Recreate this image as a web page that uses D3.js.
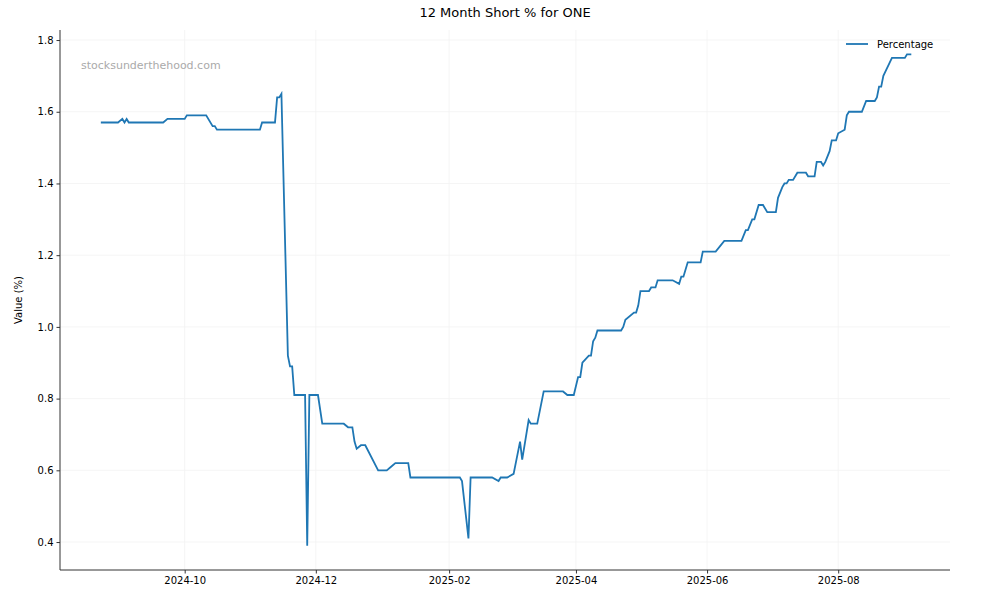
<!DOCTYPE html>
<html><head><meta charset="utf-8">
<script src="https://cdn.jsdelivr.net/npm/d3@7"></script>
<style>body{margin:0;background:#fff}svg{font-family:"DejaVu Sans",sans-serif}</style>
</head><body><svg id="c" width="1000" height="600"></svg>
<script>
const dates=["2024-08-23","2024-08-31","2024-09-02","2024-09-03","2024-09-04","2024-09-05","2024-09-21","2024-09-23","2024-10-01","2024-10-02","2024-10-11","2024-10-14","2024-10-15","2024-10-16","2024-11-05","2024-11-06","2024-11-12","2024-11-13","2024-11-14","2024-11-15","2024-11-18","2024-11-19","2024-11-20","2024-11-21","2024-11-26","2024-11-27","2024-11-28","2024-12-02","2024-12-04","2024-12-14","2024-12-16","2024-12-18","2024-12-19","2024-12-20","2024-12-22","2024-12-24","2024-12-30","2025-01-03","2025-01-05","2025-01-07","2025-01-13","2025-01-14","2025-02-06","2025-02-07","2025-02-10","2025-02-11","2025-02-21","2025-02-24","2025-02-25","2025-02-28","2025-03-03","2025-03-06","2025-03-07","2025-03-10","2025-03-11","2025-03-14","2025-03-17","2025-03-26","2025-03-28","2025-03-31","2025-04-02","2025-04-03","2025-04-04","2025-04-07","2025-04-08","2025-04-09","2025-04-10","2025-04-11","2025-04-22","2025-04-23","2025-04-24","2025-04-28","2025-04-29","2025-04-30","2025-05-01","2025-05-05","2025-05-06","2025-05-08","2025-05-09","2025-05-16","2025-05-19","2025-05-20","2025-05-21","2025-05-22","2025-05-23","2025-05-29","2025-05-30","2025-06-05","2025-06-09","2025-06-17","2025-06-19","2025-06-20","2025-06-22","2025-06-23","2025-06-25","2025-06-27","2025-06-29","2025-07-03","2025-07-04","2025-07-06","2025-07-07","2025-07-08","2025-07-09","2025-07-11","2025-07-13","2025-07-17","2025-07-18","2025-07-21","2025-07-22","2025-07-24","2025-07-25","2025-07-26","2025-07-28","2025-07-29","2025-07-31","2025-08-01","2025-08-04","2025-08-05","2025-08-06","2025-08-12","2025-08-14","2025-08-18","2025-08-19","2025-08-20","2025-08-21","2025-08-22","2025-08-26","2025-09-01","2025-09-02","2025-09-04"];
const values=[1.57,1.57,1.58,1.57,1.58,1.57,1.57,1.58,1.58,1.59,1.59,1.56,1.56,1.55,1.55,1.57,1.57,1.64,1.64,1.65,0.92,0.89,0.89,0.81,0.81,0.39,0.81,0.81,0.73,0.73,0.72,0.72,0.68,0.66,0.67,0.67,0.60,0.60,0.61,0.62,0.62,0.58,0.58,0.57,0.41,0.58,0.58,0.57,0.58,0.58,0.59,0.68,0.63,0.74,0.73,0.73,0.82,0.82,0.81,0.81,0.86,0.86,0.90,0.92,0.92,0.96,0.97,0.99,0.99,1.00,1.02,1.04,1.04,1.06,1.10,1.10,1.11,1.11,1.13,1.13,1.12,1.14,1.14,1.16,1.18,1.18,1.21,1.21,1.24,1.24,1.27,1.27,1.30,1.30,1.34,1.34,1.32,1.32,1.36,1.39,1.40,1.40,1.41,1.41,1.43,1.43,1.42,1.42,1.46,1.46,1.45,1.46,1.49,1.52,1.52,1.54,1.55,1.59,1.60,1.60,1.63,1.63,1.64,1.67,1.67,1.70,1.75,1.75,1.76,1.76];
const xTicks=["2024-10-01","2024-12-01","2025-02-01","2025-04-01","2025-06-01","2025-08-01"];
const yTicks=[0.4,0.6,0.8,1.0,1.2,1.4,1.6,1.8];
const title="12 Month Short % for ONE", seriesName="Percentage", yLabel="Value (%)", watermark="stocksunderthehood.com";

const p=d3.timeParse("%Y-%m-%d");
const data=dates.map((d,i)=>({d:p(d),v:values[i]}));
const L=60,R=950,T=30,B=570;
const x=d3.scaleTime().domain([p("2024-08-04"),p("2025-09-22")]).range([L,R]);
const y=d3.scaleLinear().domain([0.322,1.828]).range([B,T]);
const svg=d3.select("#c");
const g=svg.append("g");
g.selectAll(".gx").data(xTicks).join("line").attr("x1",d=>x(p(d))).attr("x2",d=>x(p(d))).attr("y1",T).attr("y2",B).attr("stroke","#f2f2f2").attr("stroke-width",0.8);
g.selectAll(".gy").data(yTicks).join("line").attr("y1",d=>y(d)).attr("y2",d=>y(d)).attr("x1",L).attr("x2",R).attr("stroke","#f2f2f2").attr("stroke-width",0.8);
const xa=svg.append("g").attr("transform",`translate(0,${B})`).call(d3.axisBottom(x).tickValues(xTicks.map(p)).tickFormat(d3.timeFormat("%Y-%m")).tickSizeOuter(0).tickSize(3.5));
const ya=svg.append("g").attr("transform",`translate(${L},0)`).call(d3.axisLeft(y).tickValues(yTicks).tickFormat(d3.format(".1f")).tickSizeOuter(0).tickSize(3.5));
[xa,ya].forEach(a=>{a.selectAll("text").attr("font-size",10).attr("fill","#000").attr("font-family","DejaVu Sans");a.select(".domain").attr("stroke","#333");a.selectAll(".tick line").attr("stroke","#333");});
xa.select(".domain").attr("d",`M${L},0H${R}`);
ya.select(".domain").attr("d",`M0,${B}V${T}`);
svg.append("path").datum(data).attr("fill","none").attr("stroke","#1f77b4").attr("stroke-width",1.8).attr("d",d3.line().x(d=>x(d.d)).y(d=>y(d.v)));
svg.append("text").attr("x",505).attr("y",17).attr("text-anchor","middle").attr("font-size",13).text(title);
svg.append("text").attr("transform","translate(22,300) rotate(-90)").attr("text-anchor","middle").attr("font-size",10).text(yLabel);
svg.append("text").attr("x",81).attr("y",69).attr("font-size",11).attr("fill","#aaa").text(watermark);
svg.append("line").attr("x1",846).attr("x2",868).attr("y1",44).attr("y2",44).attr("stroke","#1f77b4").attr("stroke-width",1.8);
svg.append("text").attr("x",877).attr("y",48).attr("font-size",10).text(seriesName);
</script></body></html>
